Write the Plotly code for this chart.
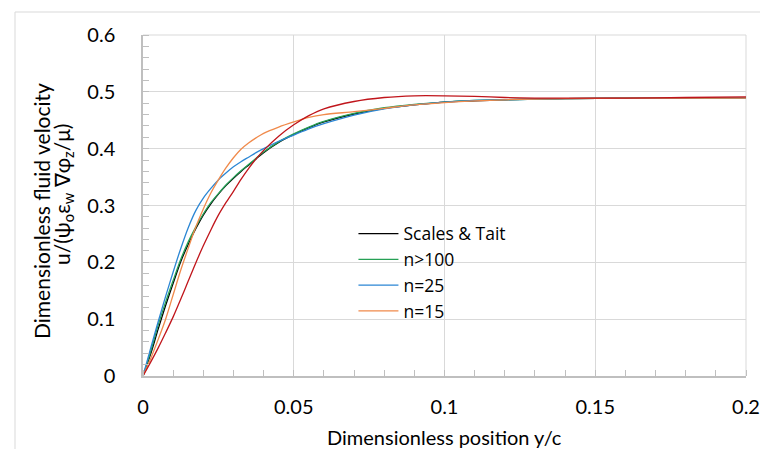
import plotly.graph_objects as go

# ---- data ----
y_c = [0, 0.0025, 0.005, 0.0075, 0.01, 0.0125, 0.015, 0.0175, 0.02, 0.0225, 0.025, 0.0275,
       0.03, 0.0325, 0.035, 0.0375, 0.04, 0.045, 0.05, 0.055, 0.06, 0.07, 0.08, 0.09,
       0.1, 0.11, 0.12, 0.13, 0.14, 0.16, 0.18, 0.2]

scales_tait = [0, 0.038, 0.082, 0.124, 0.163, 0.201, 0.232, 0.259, 0.283, 0.303, 0.320, 0.335,
               0.348, 0.360, 0.371, 0.382, 0.393, 0.411, 0.425, 0.437, 0.447, 0.461, 0.471, 0.477,
               0.482, 0.484, 0.486, 0.487, 0.488, 0.489, 0.489, 0.489]
n_gt100 = [0, 0.042, 0.089, 0.130, 0.168, 0.205, 0.236, 0.262, 0.285, 0.305, 0.321, 0.336,
           0.349, 0.361, 0.372, 0.383, 0.394, 0.412, 0.426, 0.438, 0.448, 0.462, 0.472, 0.478,
           0.482, 0.485, 0.486, 0.487, 0.488, 0.489, 0.489, 0.489]
n_25 = [0, 0.048, 0.095, 0.140, 0.183, 0.224, 0.261, 0.291, 0.313, 0.330, 0.345, 0.357,
        0.368, 0.377, 0.385, 0.393, 0.400, 0.413, 0.424, 0.435, 0.444, 0.459, 0.470, 0.477,
        0.482, 0.485, 0.486, 0.487, 0.488, 0.489, 0.489, 0.489]
n_15 = [0, 0.030, 0.064, 0.100, 0.143, 0.186, 0.225, 0.262, 0.294, 0.322, 0.345, 0.366,
        0.384, 0.399, 0.410, 0.419, 0.427, 0.438, 0.447, 0.455, 0.460, 0.465, 0.471, 0.477,
        0.481, 0.484, 0.486, 0.487, 0.488, 0.489, 0.489, 0.489]
n_red = [0, 0.024, 0.049, 0.076, 0.104, 0.135, 0.167, 0.199, 0.229, 0.257, 0.283, 0.305,
         0.325, 0.346, 0.365, 0.382, 0.397, 0.422, 0.442, 0.458, 0.470, 0.483, 0.490, 0.493,
         0.493, 0.492, 0.490, 0.489, 0.489, 0.489, 0.490, 0.491]

x_tickvals = [0, 0.05, 0.1, 0.15, 0.2]
x_ticktext = ["0", "0.05", "0.1", "0.15", "0.2"]
y_tickvals = [0, 0.1, 0.2, 0.3, 0.4, 0.5, 0.6]
y_ticktext = ["0", "0.1", "0.2", "0.3", "0.4", "0.5", "0.6"]

FONT = "Lato"
GRID = "#d9d9d9"
AXIS = "#bfbfbf"

fig = go.Figure()
series = [
    ("Scales & Tait", scales_tait, "#000000", True),
    ("n>100", n_gt100, "#25A055", True),
    ("n=25", n_25, "#2B86D4", True),
    ("n=15", n_15, "#F08A4B", True),
    ("n=5", n_red, "#C0151B", False),
]
for name, ys, col, show in series:
    fig.add_trace(go.Scatter(x=y_c, y=ys, mode="lines", name=name, showlegend=show,
                             line=dict(color=col, width=1.3, shape="spline", smoothing=0.8)))

fig.update_layout(
    width=760, height=449,
    margin=dict(l=143, r=14, t=35, b=73, autoexpand=False),
    paper_bgcolor="white", plot_bgcolor="white",
    font=dict(family=FONT, size=20, color="#000000"),
    showlegend=True,
    legend=dict(x=0.349, y=0.47, xanchor="left", yanchor="top",
                bgcolor="rgba(0,0,0,0)", font=dict(size=17.5, family="Open Sans"),
                tracegroupgap=0, itemwidth=40),
    xaxis=dict(range=[0, 0.2], tickvals=x_tickvals, ticktext=x_ticktext,
               showgrid=True, gridcolor=GRID, gridwidth=1, zeroline=False,
               showline=True, linecolor=AXIS, linewidth=1.5, ticks="",
               ticklabelstandoff=12, automargin=False,
               minor=dict(dtick=0.01, ticks="inside", ticklen=6, tickcolor=AXIS,
                          tickwidth=1, showgrid=False),
               tickfont=dict(size=20, family=FONT)),
    yaxis=dict(range=[0, 0.6], tickvals=y_tickvals, ticktext=y_ticktext,
               showgrid=True, gridcolor=GRID, gridwidth=1, zeroline=False,
               showline=True, linecolor=AXIS, linewidth=1.5, ticks="",
               ticklabelstandoff=22, automargin=False,
               minor=dict(dtick=0.02, ticks="inside", ticklen=6, tickcolor=AXIS,
                          tickwidth=1, showgrid=False),
               tickfont=dict(size=20, family=FONT)),
)

# top and right grid borders of the plot area
fig.add_shape(type="line", xref="paper", yref="paper", x0=0, x1=1, y0=1, y1=1,
              line=dict(color=GRID, width=1), layer="below")
fig.add_shape(type="line", xref="paper", yref="paper", x0=1, x1=1, y0=0, y1=1,
              line=dict(color=GRID, width=1), layer="below")

# axis titles
fig.add_annotation(text="Dimensionless position y/c", xref="paper", yref="paper",
                   x=0.5, y=-0.179, xanchor="center", yanchor="middle", showarrow=False,
                   font=dict(size=20, family=FONT))
fig.add_annotation(text="Dimensionless fluid velocity", xref="paper", yref="paper",
                   x=(41 - 143) / 603, y=(376 - 211) / 341, xanchor="center", yanchor="middle",
                   textangle=-90, showarrow=False, font=dict(size=21, family=FONT))
fig.add_annotation(text="u/(ψ<sub>o</sub>ε<sub>w</sub> ∇φ<sub>z</sub>/μ)", xref="paper", yref="paper",
                   x=(63 - 143) / 603, y=(376 - 195) / 341, xanchor="center", yanchor="middle",
                   textangle=-90, showarrow=False, font=dict(size=21, family=FONT))

# outer chart frame (left and top edges visible)
fx = (15 - 143) / 603
fy = (376 - 12) / 341
fig.add_shape(type="line", xref="paper", yref="paper", x0=fx, x1=fx, y0=fy, y1=-0.3,
              line=dict(color=GRID, width=1))
fig.add_shape(type="line", xref="paper", yref="paper", x0=fx, x1=1.1, y0=fy, y1=fy,
              line=dict(color=GRID, width=1))

fig.write_html("out.html")
